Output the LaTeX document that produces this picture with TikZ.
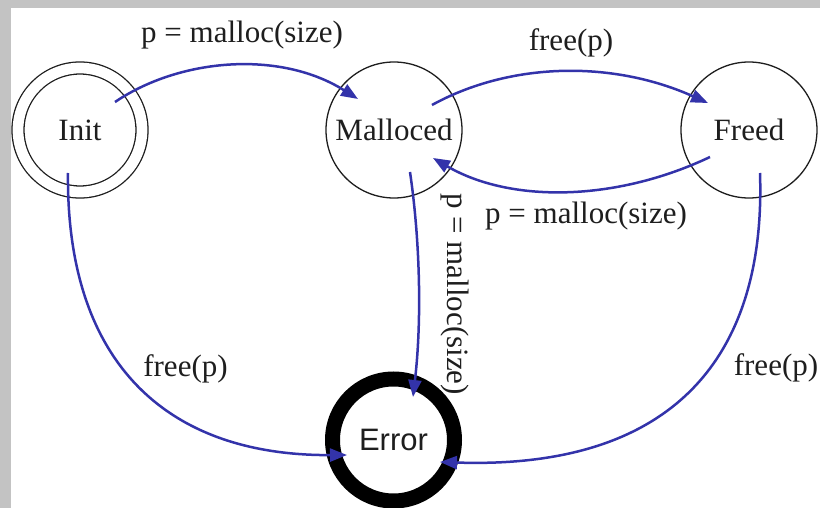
\documentclass[tikz,border=0pt]{standalone}
\usepackage{fontspec}
\setmainfont{Liberation Serif}
\newfontfamily\errfont{Liberation Sans}
\usetikzlibrary{arrows.meta,calc}
\definecolor{edgeblue}{HTML}{3333AA}
\definecolor{frame}{HTML}{C3C3C3}
\definecolor{ink}{HTML}{1E1E1E}
\begin{document}
\begin{tikzpicture}[x=1pt,y=-1pt,
  state/.style={circle,draw=ink,line width=1.3pt,minimum size=136pt,inner sep=0pt,
    font=\fontsize{31}{31}\selectfont,text=ink},
  startstate/.style={state,minimum size=124pt,double,double distance=10.7pt},
  errstate/.style={circle,draw=black,line width=15pt,minimum size=122pt,inner sep=0pt,
    font=\errfont\fontsize{31}{31}\selectfont,text=ink},
  trans/.style={draw=edgeblue,line width=2.5pt,-{Triangle[length=17pt,width=13pt]}},
  lbl/.style={font=\fontsize{31}{31}\selectfont,text=ink,inner sep=0pt}]
  % page frame
  \useasboundingbox (0,0) rectangle (820,508);
  \fill[frame] (0,0) rectangle (820,508);
  \fill[white] (11,8) rectangle (820,508);

  % states
  \node[startstate] (init) at (80,130) {Init};
  \node[state] (malloced) at (394,130) {Malloced};
  \node[state] (freed) at (749,130) {Freed};
  \node[errstate] (error) at (393.5,440) {Error};

  % connector end points inside the states
  \coordinate (i1) at ($(init)+(35,-28)$);
  \coordinate (i2) at ($(init)+(-12,43)$);
  \coordinate (m1) at ($(malloced)+(-36,-31)$);
  \coordinate (m2) at ($(malloced)+(38,-25)$);
  \coordinate (m3) at ($(malloced)+(39,28)$);
  \coordinate (m4) at ($(malloced)+(16,42)$);
  \coordinate (f1) at ($(freed)+(-41,-27)$);
  \coordinate (f2) at ($(freed)+(-39,27)$);
  \coordinate (f3) at ($(freed)+(11,43)$);
  \coordinate (e1) at ($(error)+(19.5,-43)$);
  \coordinate (e2) at ($(error)+(-46.5,15)$);
  \coordinate (e3) at ($(error)+(46.5,22)$);

  % transitions
  \draw[trans] (i1) .. controls (180,58) and (280,50) .. (m1);
  \draw[trans] (m2) .. controls (510,62) and (612,60) .. (f1);
  \draw[trans] (f2) .. controls (615,202) and (510,203) .. (m3);
  \draw[trans] (m4) .. controls (420,240) and (422,320) .. (e1);
  \draw[trans] (i2) .. controls (66,359) and (163,456) .. (e2);
  \draw[trans] (f3) .. controls (766,350) and (680,470) .. (e3);

  % transition labels
  \node[lbl,anchor=base] (l1) at (242,43) {p = malloc(size)};
  \node[lbl,anchor=base] (l2) at (571,51) {free(p)};
  \node[lbl,anchor=base] (l3) at (586,223) {p = malloc(size)};
  \node[lbl,rotate=-90] (l4) at (455,294) {p = malloc(size)};
  \node[lbl,anchor=base] (l5) at (185.5,376) {free(p)};
  \node[lbl,anchor=base] (l6) at (776,375) {free(p)};
\end{tikzpicture}
\end{document}
